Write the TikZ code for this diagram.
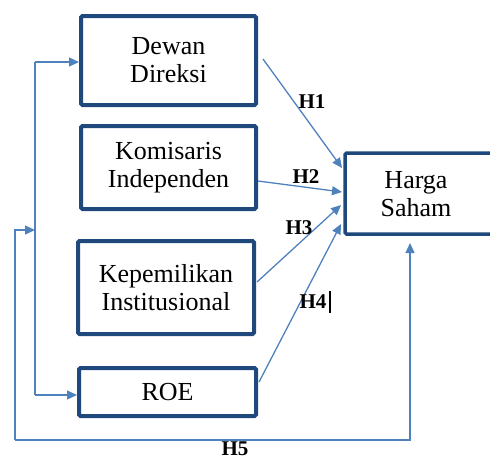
\documentclass[tikz,border=0pt]{standalone}
\usepackage{fontspec}
\setmainfont{Liberation Serif}
\usetikzlibrary{arrows.meta}
\definecolor{boxc}{HTML}{1F497D}
\definecolor{arrc}{HTML}{4F81BD}
\begin{document}
\begin{tikzpicture}[x=1pt,y=-1pt,
  box/.style={draw=boxc,line width=4pt,rounded corners=1.5pt,align=center,inner sep=0pt,
    font=\fontsize{26}{28}\selectfont},
  conn/.style={draw=arrc,line width=1.3pt,-{Triangle[length=10pt,width=9pt]}},
  plain/.style={draw=arrc,line width=1.3pt},
  lab/.style={font=\fontsize{21}{22}\selectfont\bfseries,inner sep=0pt}]
\useasboundingbox (0,0) rectangle (490,459);
\node[box,minimum width=175pt,minimum height=89pt] (dd) at (168.5,60.5) {Dewan\\Direksi};
\node[box,minimum width=175pt,minimum height=83pt] (ki) at (168.5,167.5) {Komisaris\\Independen};
\node[box,minimum width=176pt,minimum height=93pt] (kin) at (166,287.5) {Kepemilikan\\Institusional};
\node[box,minimum width=177pt,minimum height=48pt] (roe) at (167.5,392) {ROE};
\node[box,line width=3.5pt,minimum width=150pt,minimum height=81pt] (hs) at (420,193.5) {};
\node[font=\fontsize{26}{28}\selectfont,align=center] (hst) at (416,194) {Harga\\Saham};
\coordinate (a1) at (263,59);
\coordinate (a2) at (258,181);
\coordinate (a3) at (257,282);
\coordinate (a4) at (259,382);
\coordinate (e1) at (342,168);
\coordinate (e2) at (342,192);
\coordinate (e3) at (341,205);
\coordinate (e4) at (341,224);
\draw[conn] (a1) -- (e1);
\draw[conn] (a2) -- (e2);
\draw[conn] (a3) -- (e3);
\draw[conn] (a4) -- (e4);
\coordinate (v1) at (35,62);
\coordinate (v2) at (35,395);
\coordinate (dl) at (dd.west |- v1);
\coordinate (rl) at (roe.west |- v2);
\draw[conn] (v1) -- (dl);
\draw[conn] (v2) -- (rl);
\draw[plain] (v1) -- (v2);
\coordinate (b1) at (15,230);
\coordinate (b2) at (15,440);
\coordinate (b3) at (410,440);
\coordinate (bt) at (410,243);
\coordinate (bj) at (35,230);
\draw[conn] (b2) -- (b1) -- (bj);
\draw[conn] (b2) -- (b3) -- (bt);
\node[lab] (h1) at (312,102) {H1};
\node[lab] (h2) at (306,177) {H2};
\node[lab] (h3) at (299,228) {H3};
\node[lab] (h4) at (313,302) {H4};
\draw[black,line width=1.8pt] (330,291) -- (330,313);
\node[lab] (h5) at (235,449) {H5};
\end{tikzpicture}
\end{document}
